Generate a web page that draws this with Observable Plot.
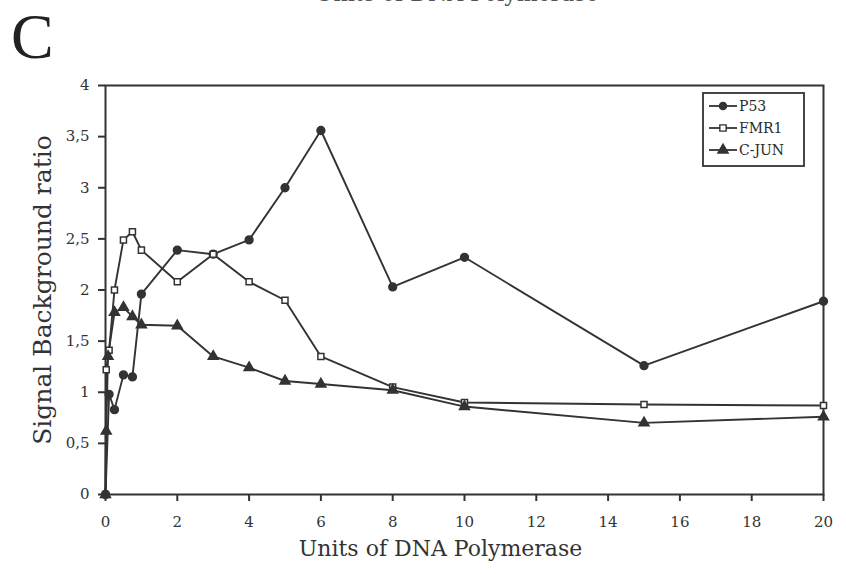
<!DOCTYPE html>
<html>
<head>
<meta charset="utf-8">
<script src="https://cdn.jsdelivr.net/npm/d3@7"></script>
<script src="https://cdn.jsdelivr.net/npm/@observablehq/plot@0.6"></script>
<style>
  html, body { margin:0; padding:0; background:#fff; }
  #wrap { position:relative; width:846px; height:574px; overflow:hidden; font-family:"DejaVu Serif", "Liberation Serif", serif; color:#2a2a2a; }
  #title { position:absolute; left:315px; top:-18px; font-size:22px; line-height:24px; color:#555; white-space:nowrap; }
  #overlay { position:absolute; left:0; top:0; }
  g[aria-label="y-axis label"] text { font-size:25px; }
</style>
</head>
<body>
<div id="wrap">
  <div id="chart"></div>
  <div id="title">Units of DNA Polymerase</div>
</div>
<script>
const p53X   = [0, 0.1, 0.25, 0.5, 0.75, 1, 2, 3, 4, 5, 6, 8, 10, 15, 20];
const p53Y   = [0, 0.98, 0.83, 1.17, 1.15, 1.96, 2.39, 2.35, 2.49, 3.0, 3.56, 2.03, 2.32, 1.26, 1.89];
const fmr1X  = [0, 0.02, 0.1, 0.25, 0.5, 0.75, 1, 2, 3, 4, 5, 6, 8, 10, 15, 20];
const fmr1Y  = [0, 1.22, 1.41, 2.0, 2.49, 2.57, 2.39, 2.08, 2.35, 2.08, 1.9, 1.35, 1.05, 0.9, 0.88, 0.87];
const cjunX  = [0, 0.02, 0.07, 0.25, 0.5, 0.75, 1, 2, 3, 4, 5, 6, 8, 10, 15, 20];
const cjunY  = [0, 0.62, 1.35, 1.78, 1.83, 1.74, 1.66, 1.65, 1.35, 1.24, 1.11, 1.08, 1.02, 0.86, 0.70, 0.76];
const seriesNames = ["P53", "FMR1", "C-JUN"];
const xTicks = [0, 2, 4, 6, 8, 10, 12, 14, 16, 18, 20];
const yTicks = [0, 0.5, 1, 1.5, 2, 2.5, 3, 3.5, 4];
const xLabel = "Units of DNA Polymerase";
const yLabel = "Signal Background ratio";
const panelLabel = "C";

const data = [
  ...p53X.map((x, i) => ({series: "P53", x, y: p53Y[i]})),
  ...fmr1X.map((x, i) => ({series: "FMR1", x, y: fmr1Y[i]})),
  ...cjunX.map((x, i) => ({series: "C-JUN", x, y: cjunY[i]}))
];
const ink = "#333";
const sym = {"P53": "circle", "FMR1": "square", "C-JUN": "triangle"};
const fillOf = {"P53": ink, "FMR1": "white", "C-JUN": ink};
const rOf = {"P53": 3.9, "FMR1": 3.4, "C-JUN": 3.7};

const chart = Plot.plot({
  width: 846, height: 574,
  marginLeft: 105, marginRight: 23, marginTop: 85, marginBottom: 80,
  style: {fontFamily: "DejaVu Serif, Liberation Serif, serif", fontSize: "15px", color: "#333", background: "white"},
  x: {domain: [0, 20]},
  y: {domain: [0, 4]},
  marks: [
    Plot.frame({stroke: ink, strokeWidth: 2}),
    Plot.axisX({ticks: xTicks, tickSize: 7, tickPadding: 15, tickFormat: d => String(d), strokeWidth: 2, label: null}),
    Plot.axisY({ticks: yTicks, tickSize: 7, tickPadding: 9, tickFormat: d => String(d).replace(".", ","), strokeWidth: 2,
      label: yLabel, labelAnchor: "center", labelOffset: 72, labelArrow: "none"}),
    Plot.text([xLabel], {text: d => d, frameAnchor: "bottom", dx: -24, dy: 61, fontSize: 22, fill: "#333"}),
    Plot.line(data, {x: "x", y: "y", z: "series", stroke: ink, strokeWidth: 1.9}),
    ...seriesNames.map(s => Plot.dot(data.filter(d => d.series === s), {
      x: "x", y: "y", symbol: () => sym[s], r: rOf[s], fill: fillOf[s], stroke: ink, strokeWidth: 1.5
    }))
  ]
});
document.getElementById("chart").appendChild(chart);

// overlay: panel letter and legend box inside the plot, upper right
const lg = d3.select("#wrap").append("svg").attr("id", "overlay").attr("width", 846).attr("height", 574)
  .style("pointer-events", "none");
lg.append("text").attr("x", 11).attr("y", 58).text(panelLabel)
  .attr("font-family", "Liberation Serif, serif").attr("font-size", 64).attr("fill", "#222");
lg.append("rect").attr("x", 703).attr("y", 93).attr("width", 101).attr("height", 73)
  .attr("fill", "white").attr("stroke", ink).attr("stroke-width", 1.8);
const symGen = {"P53": d3.symbolCircle, "FMR1": d3.symbolSquare, "C-JUN": d3.symbolTriangle};
seriesNames.forEach((s, i) => {
  const y = 106 + i * 22;
  lg.append("line").attr("x1", 709).attr("x2", 737).attr("y1", y).attr("y2", y).attr("stroke", ink).attr("stroke-width", 1.8);
  const size = s === "P53" ? 40 : s === "FMR1" ? 40 : 46;
  lg.append("path").attr("d", d3.symbol(symGen[s], size)()).attr("transform", `translate(723,${y})`)
    .attr("fill", fillOf[s]).attr("stroke", ink).attr("stroke-width", 1.4);
  lg.append("text").attr("x", 739).attr("y", y).attr("dy", "0.36em").text(s)
    .attr("font-family", "DejaVu Serif, serif").attr("font-size", 14).attr("fill", "#2a2a2a");
});
</script>
</body>
</html>
